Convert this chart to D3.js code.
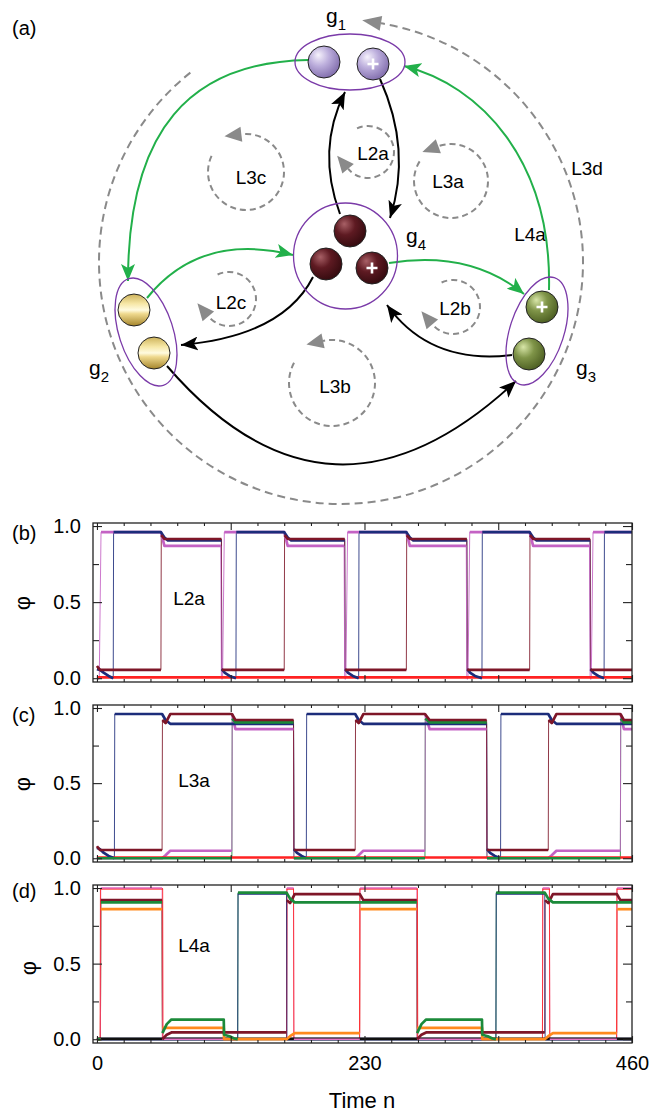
<!DOCTYPE html>
<html>
<head>
<meta charset="utf-8">
<script src="https://cdnjs.cloudflare.com/ajax/libs/d3/7.8.5/d3.min.js"></script>
<style>
  body { margin: 0; background: #fff; }
  svg { display: block; font-family: "Liberation Sans", Arial, sans-serif; }
</style>
</head>
<body>
<svg id="fig" width="650" height="1114"></svg>
<script>
// ---- time-series values (b), (c), (d): [n, phi] ----
const xMajorTicks = [0, 115, 230, 345, 460];
const xTickLabels = [0, 230, 460];
const yMajorTicks = [0, 0.5, 1];
const yMinorTicks = [0.25, 0.75];

// (b) L2a
const bNavy = [[0,0.06],[2.6,0.055],[6,0.035],[10,0.015],[14,0],[14.3,0.96],[55,0.96],[58,0.925],[61,0.905],[107,0.905],[107.3,0.06],[110,0.035],[114,0.015],[119.5,0],[119.8,0.96],[161,0.96],[164,0.925],[167,0.905],[213,0.905],[213.3,0.06],[216,0.035],[220,0.015],[225,0],[225.3,0.96],[266,0.96],[269,0.925],[272,0.905],[318,0.905],[318.3,0.06],[321,0.035],[325,0.015],[331,0],[331.3,0.96],[372,0.96],[375,0.925],[378,0.905],[424,0.905],[424.3,0.06],[427,0.035],[431,0.015],[436,0],[436.3,0.96],[460,0.96]];
const bMaroon = [[0,0.08],[2.6,0.055],[55,0.055],[55.3,0.94],[58,0.915],[107,0.915],[107.3,0.055],[161,0.055],[161.3,0.94],[164,0.915],[213,0.915],[213.3,0.055],[266,0.055],[266.3,0.94],[269,0.915],[318,0.915],[318.3,0.055],[372,0.055],[372.3,0.94],[375,0.915],[424,0.915],[424.3,0.055],[460,0.055]];
const bPink = [[0,0],[2,0],[3.5,0.96],[55,0.96],[58,0.87],[106.5,0.87],[107,0],[108,0],[109.5,0.96],[161,0.96],[164,0.87],[212.5,0.87],[213,0],[214,0],[215.5,0.96],[266,0.96],[269,0.87],[317.5,0.87],[318,0],[319,0],[320.5,0.96],[372,0.96],[375,0.87],[423.5,0.87],[424,0],[425,0],[426.5,0.96],[460,0.96]];
const bRed = [[0,0.006],[460,0.006]];

// (c) L3a
const cNavy = [[0,0.07],[2.6,0.06],[6,0.035],[10,0.015],[15,0],[15.3,0.96],[56,0.96],[59,0.92],[63,0.895],[169,0.895],[169.3,0.06],[172,0.035],[176,0.015],[180,0],[180.3,0.96],[222,0.96],[225,0.92],[229,0.895],[335,0.895],[335.3,0.06],[338,0.035],[342,0.015],[347,0],[347.3,0.96],[388,0.96],[391,0.92],[395,0.895],[460,0.895]];
const cMaroon = [[0,0.08],[2.6,0.055],[56,0.055],[56.3,0.92],[59,0.9],[63,0.96],[116,0.96],[119,0.92],[169,0.92],[169.3,0.055],[222,0.055],[222.3,0.92],[225,0.9],[229,0.96],[282,0.96],[286,0.92],[335,0.92],[335.3,0.055],[388,0.055],[388.3,0.92],[391,0.9],[395,0.96],[450,0.96],[453,0.92],[460,0.92]];
const cPink = [[0,0],[56,0],[59,0.02],[63,0.05],[116,0.05],[116.3,0.96],[119,0.86],[169,0.86],[169.3,0],[222,0],[225,0.02],[229,0.05],[282,0.05],[282.3,0.96],[286,0.86],[335,0.86],[335.3,0],[388,0],[391,0.02],[395,0.05],[450,0.05],[450.3,0.96],[453,0.86],[460,0.86]];
const cGreen = [[0,0],[116,0],[116.3,0.93],[119,0.905],[169,0.905],[169.3,0],[282,0],[282.3,0.93],[286,0.905],[335,0.905],[335.3,0],[450,0],[450.3,0.93],[453,0.905],[460,0.905]];
const cRed = [[0,0.005],[460,0.005]];

// (d) L4a
const dBlack = [[0,0.002],[460,0.002]];
const dRed = [[0,0],[2.7,0],[3,0.995],[56.5,0.995],[56.8,0],[163,0],[163.3,0.995],[169,0.995],[169.3,0],[225.7,0],[226,0.995],[275.5,0.995],[275.8,0],[383,0],[383.3,0.995],[389,0.995],[389.3,0],[446.7,0],[447,0.995],[460,0.995]];
const dPink = [[0,0],[3,0],[3.3,1.0],[56,1.0],[56.3,0],[163,0],[163.3,1.0],[169,1.0],[169.3,0],[226,0],[226.3,1.0],[275,1.0],[275.3,0],[383,0],[383.3,1.0],[389,1.0],[389.3,0],[447,0],[447.3,1.0],[460,1.0]];
const dNavy = [[0,0],[121,0],[121.3,0.965],[163,0.965],[163.3,0],[343,0],[343.3,0.965],[385,0.965],[385.3,0],[460,0]];
const dOrange = [[0,0],[3,0],[3.3,0.86],[56,0.86],[56.3,0.075],[109,0.075],[109.3,0],[163,0],[166,0.02],[170,0.04],[226,0.04],[226.3,0.86],[275,0.86],[275.3,0.075],[331,0.075],[331.3,0],[385,0],[388,0.02],[392,0.04],[447,0.04],[447.3,0.86],[460,0.86]];
const dMaroon = [[0,0],[3,0],[3.3,0.92],[56,0.92],[56.3,0],[60,0.03],[64,0.045],[163,0.045],[163.3,0.92],[166,0.9],[170,0.96],[226,0.96],[229,0.92],[275,0.92],[275.3,0],[279,0.03],[283,0.045],[385,0.045],[385.3,0.92],[388,0.9],[392,0.96],[447,0.96],[450,0.92],[460,0.92]];
const dGreen = [[0,0],[3,0],[3.3,0.905],[56,0.905],[56.3,0.04],[60,0.1],[64,0.13],[109,0.13],[109.3,0.03],[114,0.02],[118,0.005],[121,0],[121.3,0.97],[163,0.97],[166,0.93],[170,0.905],[275,0.905],[275.3,0.04],[279,0.1],[283,0.13],[331,0.13],[331.3,0.03],[336,0.02],[340,0.005],[343,0],[343.3,0.97],[385,0.97],[388,0.93],[392,0.905],[460,0.905]];

const colors = {
  navy: "#1c2c7a", maroon: "#7e1628", pink: "#c462c4", red: "#ff2222",
  green: "#1b8a3a", orange: "#ff8a1e", black: "#111", dpink: "#e476c8"
};

const svg = d3.select("#fig");
const defs = svg.append("defs");

// =================== (a) network diagram ===================
const diag = svg.append("g");
diag.append("text").attr("x", 12).attr("y", 35).attr("font-size", 20).text("(a)");

function grad(id, stops, radial) {
  const gr = radial
    ? defs.append("radialGradient").attr("id", id).attr("cx", "38%").attr("cy", "35%").attr("r", "70%").attr("fx", "32%").attr("fy", "28%")
    : defs.append("linearGradient").attr("id", id).attr("x1", 0).attr("y1", 0).attr("x2", 0).attr("y2", 1);
  stops.forEach(s => gr.append("stop").attr("offset", s[0]).attr("stop-color", s[1]));
}
grad("gPurple", [[0, "#f6f2fc"], [0.45, "#bcaedc"], [1, "#7e6aaa"]], true);
grad("gMaroon", [[0, "#a86066"], [0.45, "#5e1a22"], [1, "#320a0e"]], true);
grad("gGold", [[0, "#cdb25a"], [0.3, "#f6e7a6"], [0.5, "#fffbe0"], [0.62, "#efd98e"], [1, "#a4842a"]], false);
grad("gOlive", [[0, "#d8e6a8"], [0.45, "#7f9448"], [1, "#4a5c20"]], true);

// arrow markers
[["arBlack", "#000"], ["arGreen", "#22b04a"]].forEach(([id, c]) => {
  defs.append("marker").attr("id", id).attr("markerUnits", "userSpaceOnUse")
    .attr("markerWidth", 18).attr("markerHeight", 14).attr("refX", 17).attr("refY", 7)
    .attr("orient", "auto")
    .append("path").attr("d", "M0,0 L17,7 L0,14 L4,7 Z").attr("fill", c);
});

// outer dashed loop L3d and inner loops
const loopArrow = (g, cx, cy, r, a, dir, len, wid) => {
  const t = a * Math.PI / 180;
  const bx = cx + r * Math.cos(t), by = cy + r * Math.sin(t);
  const tx = -Math.sin(t) * dir, ty = Math.cos(t) * dir;
  const nx = -ty, ny = tx;
  g.append("path").attr("fill", "#8a8a8a")
    .attr("d", `M${bx + tx * len},${by + ty * len} L${bx + nx * wid / 2},${by + ny * wid / 2} L${bx - nx * wid / 2},${by - ny * wid / 2} Z`);
};
const loops = [
  { cx: 341, cy: 262, r: 242, a0: 231.5, a1: -80.5, dir: -1, len: 19, wid: 15, dash: "8,5" },
  { cx: 246, cy: 172, r: 38, a0: 205, a1: -97, dir: -1, len: 17, wid: 15, dash: "6,4" },
  { cx: 368, cy: 152, r: 26, a0: 245, a1: 500, dir: 1, len: 17, wid: 15, dash: "6,4" },
  { cx: 451, cy: 181, r: 37, a0: 212, a1: -110, dir: -1, len: 17, wid: 15, dash: "6,4" },
  { cx: 229, cy: 299, r: 27, a0: 245, a1: 500, dir: 1, len: 17, wid: 15, dash: "6,4" },
  { cx: 453, cy: 307, r: 27, a0: 245, a1: 500, dir: 1, len: 17, wid: 15, dash: "6,4" },
  { cx: 332, cy: 383, r: 43, a0: 208, a1: -102, dir: -1, len: 17, wid: 15, dash: "6,4" }
];
loops.forEach(l => {
  const p = d3.path();
  p.arc(l.cx, l.cy, l.r, l.a0 * Math.PI / 180, l.a1 * Math.PI / 180, l.dir < 0);
  diag.append("path").attr("d", p.toString()).attr("fill", "none")
    .attr("stroke", "#8a8a8a").attr("stroke-width", 2).attr("stroke-dasharray", l.dash);
  loopArrow(diag, l.cx, l.cy, l.r, l.a1, l.dir, l.len, l.wid);
});

const loopLabels = [["L3c", 251, 177], ["L2a", 373, 153], ["L3a", 448, 181], ["L2c", 231, 302],
  ["L2b", 455, 308], ["L3b", 335, 386], ["L3d", 587, 168], ["L4a", 530, 234]];
diag.selectAll(".ll").data(loopLabels).join("text")
  .attr("x", d => d[1]).attr("y", d => d[2]).attr("dy", "0.35em")
  .attr("text-anchor", "middle").attr("font-size", 19).text(d => d[0]);

// connection arrows
const links = [
  ["M340,214 Q316,150 345,92", "#000", "arBlack"],
  ["M380,79 Q412,150 390,218", "#000", "arBlack"],
  ["M313,277 Q283,336 181,345", "#000", "arBlack"],
  ["M512,355 Q430,365 387,305", "#000", "arBlack"],
  ["M167,366 Q330,555 516,381", "#000", "arBlack"],
  ["M308,60 C190,62 128,130 128,281", "#22b04a", "arGreen"],
  ["M147,298 Q200,232 293,255", "#22b04a", "arGreen"],
  ["M389,263 Q470,250 524,294", "#22b04a", "arGreen"],
  ["M549,290 C552,160 480,85 404,66", "#22b04a", "arGreen"]
];
links.forEach(([d, c, m]) => diag.append("path").attr("d", d).attr("fill", "none")
  .attr("stroke", c).attr("stroke-width", 2).attr("marker-end", `url(#${m})`));

// group enclosures
const groups = [
  { cx: 350, cy: 62, rx: 55, ry: 28, rot: 0 },
  { cx: 345.5, cy: 256, rx: 52, ry: 53, rot: 0 },
  { cx: 146, cy: 332, rx: 27, ry: 56, rot: -18 },
  { cx: 537, cy: 331, rx: 27, ry: 56, rot: 18 }
];
groups.forEach(g => diag.append("ellipse").attr("cx", 0).attr("cy", 0).attr("rx", g.rx).attr("ry", g.ry)
  .attr("transform", `translate(${g.cx},${g.cy}) rotate(${g.rot})`)
  .attr("fill", "none").attr("stroke", "#7a3aa8").attr("stroke-width", 1.3));

// species balls
const balls = [
  [324, 62, "gPurple", false], [373, 64, "gPurple", true],
  [350, 231, "gMaroon", false], [326, 264, "gMaroon", false], [372, 268, "gMaroon", true],
  [134, 310, "gGold", false], [154, 353, "gGold", false],
  [542, 307, "gOlive", true], [529, 354, "gOlive", false]
];
balls.forEach(([x, y, f, plus]) => {
  diag.append("circle").attr("cx", x).attr("cy", y).attr("r", 16)
    .attr("fill", `url(#${f})`).attr("stroke", "#222").attr("stroke-width", 1);
  if (plus) {
    diag.append("path").attr("d", `M${x - 5.5},${y} H${x + 5.5} M${x},${y - 5.5} V${y + 5.5}`)
      .attr("stroke", "#fff").attr("stroke-width", 2.6);
  }
});

const gLabels = [["1", 326, 23], ["4", 406, 243], ["2", 89, 375], ["3", 576, 375]];
gLabels.forEach(([s, x, y]) => {
  const t = diag.append("text").attr("x", x).attr("y", y).attr("font-size", 21).text("g");
  t.append("tspan").attr("font-size", 15).attr("dy", 7).text(s);
});

// =================== (b)-(d) time series ===================
const x = d3.scaleLinear().domain([-3.4, 460]).range([93, 632]);
const panels = [
  { top: 523, bottom: 682, tag: "(b)", tagY: 540, phiY: 603, name: "L2a", nameX: 189, nameY: 598,
    series: [[bPink, "pink"], [bRed, "red"], [bNavy, "navy"], [bMaroon, "maroon"]],
    thinOrder: ["red", "navy", "maroon", "pink"] },
  { top: 705, bottom: 862, tag: "(c)", tagY: 722, phiY: 784, name: "L3a", nameX: 194, nameY: 780,
    series: [[cPink, "pink"], [cRed, "red"], [cNavy, "navy"], [cGreen, "green"], [cMaroon, "maroon"]],
    thinOrder: ["green", "red", "navy", "pink", "maroon"] },
  { top: 885, bottom: 1043, tag: "(d)", tagY: 898, phiY: 968, name: "L4a", nameX: 194, nameY: 945,
    series: [[dRed, "red"], [dNavy, "navy"], [dBlack, "black"], [dPink, "dpink"], [dOrange, "orange"], [dMaroon, "maroon"], [dGreen, "green"]],
    thinOrder: ["black", "orange", "green", "maroon", "dpink", "red", "navy"] }
];

panels.forEach((p, pi) => {
  const y = d3.scaleLinear().domain([-0.025, 1.02]).range([p.bottom, p.top]);
  const g = svg.append("g");
  const line = d3.line().x(d => x(d[0])).y(d => y(d[1]));

  // thin full traces
  p.thinOrder.forEach(c => {
    const pts = p.series.find(s => s[1] === c)[0];
    g.append("path").attr("d", line(pts)).attr("fill", "none")
      .attr("stroke", colors[c]).attr("stroke-width", 1).attr("opacity", 0.85);
  });

  // thick plateaus (dense markers in the original)
  p.series.forEach(([pts, c]) => {
    const segs = [];
    let cur = [pts[0]];
    for (let i = 1; i < pts.length; i++) {
      if (Math.abs(pts[i][1] - pts[i - 1][1]) < 0.3) cur.push(pts[i]);
      else { if (cur.length > 1) segs.push(cur); cur = [pts[i]]; }
    }
    if (cur.length > 1) segs.push(cur);
    const w = (c === "dpink" || (c === "red" && pi === 2)) ? 1.6 : 2.7;
    segs.forEach(s => g.append("path").attr("d", line(s)).attr("fill", "none")
      .attr("stroke", colors[c]).attr("stroke-width", w).attr("stroke-linejoin", "round"));
  });

  // frame and inward ticks
  g.append("rect").attr("x", x.range()[0]).attr("y", p.top)
    .attr("width", x.range()[1] - x.range()[0]).attr("height", p.bottom - p.top)
    .attr("fill", "none").attr("stroke", "#222").attr("stroke-width", 1.3);

  const left = d3.axisLeft(y).tickValues(yMajorTicks).tickSize(-9).tickPadding(12).tickFormat(d3.format(".1f"));
  const gl = g.append("g").attr("transform", `translate(${x.range()[0]},0)`).call(left);
  gl.call(a => a.select(".domain").remove());
  gl.selectAll("text").attr("font-size", 20).attr("fill", "#000").attr("font-family", "Liberation Sans, Arial, sans-serif");
  g.append("g").attr("transform", `translate(${x.range()[0]},0)`)
    .call(d3.axisLeft(y).tickValues(yMinorTicks).tickSize(-6).tickFormat(""))
    .call(a => a.select(".domain").remove());
  g.append("g").attr("transform", `translate(${x.range()[1]},0)`)
    .call(d3.axisRight(y).tickValues(yMajorTicks).tickSize(-9).tickFormat(""))
    .call(a => a.select(".domain").remove());
  g.append("g").attr("transform", `translate(${x.range()[1]},0)`)
    .call(d3.axisRight(y).tickValues(yMinorTicks).tickSize(-6).tickFormat(""))
    .call(a => a.select(".domain").remove());

  const minorX = d3.range(23, 460, 23).filter(v => v % 115 !== 0);
  [[d3.axisTop, p.top], [d3.axisBottom, p.bottom]].forEach(([ax, yy]) => {
    g.append("g").attr("transform", `translate(0,${yy})`)
      .call(ax(x).tickValues(xMajorTicks).tickSize(-7).tickFormat(""))
      .call(a => a.select(".domain").remove());
    g.append("g").attr("transform", `translate(0,${yy})`)
      .call(ax(x).tickValues(minorX).tickSize(-3).tickFormat(""))
      .call(a => a.select(".domain").remove());
  });
  g.selectAll(".tick line").attr("stroke", "#222").attr("stroke-width", 1.1);

  if (pi === 2) {
    const gb = g.append("g").attr("transform", `translate(0,${p.bottom})`)
      .call(d3.axisBottom(x).tickValues(xTickLabels).tickSize(0).tickPadding(13));
    gb.select(".domain").remove();
    gb.selectAll("text").attr("font-size", 20).attr("fill", "#000").attr("font-family", "Liberation Sans, Arial, sans-serif");
  }

  g.append("text").attr("x", 12).attr("y", p.tagY).attr("font-size", 20).text(p.tag);
  g.append("text").attr("transform", `translate(${pi === 2 ? 28 : 22},${p.phiY}) rotate(-90)`)
    .attr("text-anchor", "middle").attr("dy", "0.35em").attr("font-size", 22).text("φ");
  g.append("text").attr("x", p.nameX).attr("y", p.nameY).attr("dy", "0.35em")
    .attr("text-anchor", "middle").attr("font-size", 19).text(p.name);
});

svg.append("text").attr("x", 362).attr("y", 1108).attr("text-anchor", "middle")
  .attr("font-size", 22).text("Time n");
</script>
</body>
</html>
